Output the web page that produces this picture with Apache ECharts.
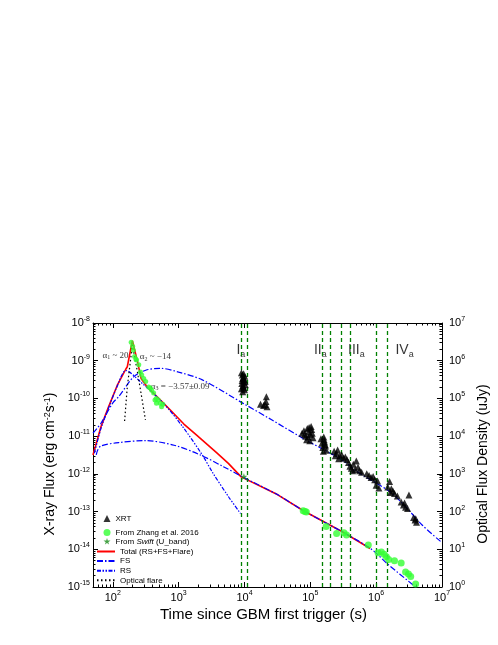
<!DOCTYPE html>
<html>
<head>
<meta charset="utf-8">
<script src="https://cdn.jsdelivr.net/npm/echarts@6/dist/echarts.min.js"></script>
<style>
html, body { margin: 0; padding: 0; background: #fff; }
#container { width: 498px; height: 645px; }
</style>
</head>
<body>
<div id="container"></div>
<script>
// X-ray data, time (s) vs flux (erg cm^-2 s^-1)
var xrtData = [
    [9.0e3, 4.8e-10], [9.3e3, 4.2e-10], [9.6e3, 3.6e-10], [9.9e3, 3.2e-10], [1.02e4, 2.8e-10],
    [9.1e3, 2.5e-10], [9.5e3, 2.2e-10], [9.8e3, 1.9e-10], [1.0e4, 1.7e-10], [9.4e3, 1.5e-10],
    [9.7e3, 2.7e-10], [1.01e4, 3.9e-10], [9.2e3, 3.0e-10], [9.6e3, 2.0e-10], [1.03e4, 2.3e-10],
    [9.0e3, 1.8e-10], [9.7e3, 4.5e-10], [9.4e3, 3.4e-10],
    [1.75e4, 7.0e-11], [1.95e4, 6.5e-11], [2.05e4, 6.9e-11], [2.15e4, 1.1e-10], [2.2e4, 6.0e-11], [2.12e4, 8.3e-11],
    [7.5e4, 1.2e-11], [8.0e4, 1.4e-11], [8.5e4, 1.0e-11], [9.0e4, 1.6e-11], [9.5e4, 1.3e-11],
    [1.0e5, 1.1e-11], [1.05e5, 1.5e-11], [1.1e5, 9.0e-12], [8.8e4, 8.0e-12], [9.8e4, 7.5e-12],
    [1.03e5, 1.8e-11], [8.2e4, 1.1e-11], [9.3e4, 9.5e-12], [1.07e5, 1.2e-11], [9.6e4, 1.7e-11],
    [1.45e5, 8.5e-12], [1.5e5, 6.5e-12], [1.55e5, 5.0e-12], [1.6e5, 9.5e-12], [1.65e5, 7.0e-12],
    [1.7e5, 5.5e-12], [1.75e5, 4.2e-12], [1.58e5, 4.0e-12], [1.62e5, 8.0e-12], [1.68e5, 6.0e-12],
    [2.3e5, 4.0e-12], [2.5e5, 3.5e-12], [2.6e5, 4.3e-12], [2.8e5, 3.0e-12], [3.0e5, 3.2e-12],
    [3.2e5, 2.6e-12], [3.4e5, 2.8e-12], [3.6e5, 2.4e-12], [2.4e5, 3.0e-12], [2.7e5, 2.5e-12],
    [3.8e5, 2.0e-12], [4.0e5, 1.6e-12], [4.2e5, 1.4e-12], [4.5e5, 1.8e-12], [4.8e5, 1.3e-12],
    [5.0e5, 2.2e-12], [5.3e5, 1.5e-12], [5.6e5, 1.2e-12], [4.4e5, 1.2e-12], [6.0e5, 1.1e-12],
    [7.2e5, 1.0e-12], [7.8e5, 9.0e-13], [8.4e5, 8.0e-13], [9.0e5, 8.5e-13], [9.5e5, 7.0e-13],
    [1.05e6, 6.5e-13], [1.1e6, 4.2e-13], [1.0e6, 5.0e-13],
    [1.5e6, 4.5e-13], [1.6e6, 6.3e-13], [1.7e6, 4.0e-13], [1.8e6, 3.5e-13], [1.9e6, 3.0e-13],
    [2.1e6, 2.6e-13], [1.65e6, 3.2e-13],
    [2.4e6, 1.8e-13], [2.6e6, 1.5e-13], [2.8e6, 1.3e-13], [3.0e6, 1.2e-13], [3.15e6, 2.75e-13], [2.7e6, 1.7e-13],
    [3.7e6, 7.0e-14], [3.9e6, 6.0e-14], [4.1e6, 5.2e-14], [4.0e6, 6.5e-14]
];
var fsXrayModel = [
    [50, 1.2e-11], [66, 2.2e-11], [100, 7.6e-11], [123, 1.12e-10], [209, 3.8e-10], [316, 5.6e-10],
    [525, 6.3e-10], [1000, 5.0e-10], [2290, 3.1e-10], [9550, 7.4e-11], [25100, 2.8e-11],
    [77600, 8.7e-12], [316000, 2.24e-12], [5.1e5, 1.15e-12], [1.6e6, 3.4e-13], [2.8e6, 1.35e-13],
    [5.0e6, 4.4e-14], [1e7, 1.5e-14]
];

// optical data, time (s) vs flux density (uJy)
var zhangEarly = [
    [190, 3.1e6], [200, 2.4e6], [205, 1.9e6], [214, 1.3e6], [224, 1.1e6], [229, 1.05e6],
    [248, 7.8e5], [263, 5.0e5], [275, 4.2e5], [295, 3.4e5], [316, 2.8e5], [350, 2.0e5],
    [372, 1.9e5], [389, 1.65e5], [417, 1.4e5], [437, 9.1e4], [457, 1.0e5], [460, 7.4e4],
    [490, 9.1e4], [525, 7.4e4], [550, 6.0e4], [575, 7.0e4]
];
var zhangLate = [
    [7.8e4, 105], [8.3e4, 100], [8.7e4, 98], [1.74e5, 40], [2.51e5, 26.3], [3.24e5, 27.5],
    [3.55e5, 24], [7.6e5, 12.9], [1.07e6, 8.1], [1.2e6, 8.5], [1.32e6, 7.4], [1.43e6, 6.3],
    [1.55e6, 5.4], [1.9e6, 5.0], [2.4e6, 4.3], [2.8e6, 2.5], [3.1e6, 2.2], [3.35e6, 1.9], [3.98e6, 1.2]
];
var swiftData = [[9800, 850]];
var totalModel = [
    [50, 3160], [66, 17800], [85, 56200], [117, 224000], [158, 603000], [166, 692000],
    [198, 3.39e6], [234, 1.05e6], [269, 339000], [331, 204000], [468, 112000], [741, 50100],
    [1200, 20900], [1820, 11200], [3800, 3600], [5690, 1900], [8910, 832], [31600, 282],
    [77600, 107], [316000, 28.2], [810000, 10.5]
];
var fsOpticalModel = [
    [56, 3200], [59, 4270], [66, 5500], [123, 6760], [309, 7590], [851, 5750], [2140, 3160],
    [4790, 1550], [9330, 832], [31600, 282], [77600, 107], [316000, 28.2], [851000, 10],
    [1.51e6, 4], [3.98e6, 1.0]
];
var rsModel = [
    [52.5, 3550], [66, 15800], [85, 52500], [117, 214000], [158, 550000], [263, 275000],
    [589, 74100], [1150, 17800], [2290, 3160], [3240, 1120], [5690, 251], [8710, 89]
];
var flareModel = [
    [151, 25100], [166, 204000], [186, 1.05e6], [198, 2.63e6], [234, 562000], [279, 91200], [313, 26900]
];

var epochTimes = [9000, 11000, 1.5e5, 2e5, 3e5, 4e5, 1e6, 1.5e6];
var epochNames = ['I', 'II', 'III', 'IV'];
var epochNameTimes = [8800, 1.42e5, 5.0e5, 2.7e6];
var slopeTexts = [
    '{g|α}{sub|1}{g| ~ 20}',
    '{g|α}{sub|2}{g| ~ −14}',
    '{g|α}{sub|3}{g| = −3.57±0.09}'
];
var slopeSpots = [[110, 1.4e-9], [442, 1.26e-9], [1055, 2.1e-10]];

var sans = 'Liberation Sans, Arial, sans-serif';
var serif = 'Liberation Serif, Times New Roman, serif';
var starPath = 'path://M50,0L61,35L98,35L68,57L79,91L50,70L21,91L32,57L2,35L39,35Z';

function powLabel(v) {
    var e = Math.log10(v);
    var r = Math.round(e);
    if (Math.abs(e - r) > 1e-6) return '';
    return '{b|10}{s|' + r + '}';
}
var powRich = {
    b: { fontSize: 11, lineHeight: 15, fontFamily: sans, color: '#000' },
    s: { fontSize: 7, lineHeight: 8, verticalAlign: 'top', fontFamily: sans, color: '#000' }
};

function minorLogs(lo, hi) {
    var out = [];
    for (var d = Math.floor(lo); d < hi; d++) {
        for (var k = 2; k <= 9; k++) {
            var v = d + Math.log10(k);
            if (v > lo && v < hi) out.push(v);
        }
    }
    return out;
}

function graficoCurva() {
    var dom = document.getElementById('container');
    var myChart = echarts.init(dom);
    var option;

    var majorTick = { show: true, inside: true, length: 5, lineStyle: { color: '#000', width: 1 } };
    var blackLine = { show: true, onZero: false, lineStyle: { color: '#000', width: 1 } };
    function minorAxis(pos, lo, hi) {
        return {
            type: 'value', position: pos, min: lo, max: hi,
            axisLine: { show: false, onZero: false },
            axisLabel: { show: false },
            splitLine: { show: false },
            axisTick: { show: true, inside: true, length: 2.5, customValues: minorLogs(lo, hi),
                lineStyle: { color: '#000', width: 1 } }
        };
    }
    var legendText = {
        fontFamily: sans, fontSize: 8, color: '#000',
        rich: { i: { fontFamily: sans, fontSize: 8, fontStyle: 'italic', color: '#000' } }
    };
    var noDot = { opacity: 0 };

    var epochLabelData = epochNames.map(function (n, i) {
        return {
            value: [epochNameTimes[i], 1.9e-9],
            label: { formatter: '{r|' + n + '}{sub|a}' }
        };
    });
    var slopeLabelData = slopeTexts.map(function (t, i) {
        return { value: slopeSpots[i], label: { formatter: t } };
    });

    option = {
        animation: false,
        backgroundColor: '#fff',
        grid: { left: 93, right: 46, top: 323, bottom: 58 },
        legend: [
            {
                left: 103.5, top: 514.5, padding: 0, itemWidth: 7, itemHeight: 7,
                data: ['XRT'],
                textStyle: legendText
            },
            {
                orient: 'vertical', left: 103.5, top: 528.5, padding: 0, itemWidth: 7, itemHeight: 7, itemGap: 0.8,
                data: ['From Zhang et al. 2016', 'From Swift (U_band)'],
                formatter: function (name) {
                    return name === 'From Swift (U_band)' ? 'From {i|Swift} (U_band)' : name;
                },
                textStyle: legendText
            },
            {
                orient: 'vertical', left: 96, top: 547.5, padding: 0, itemWidth: 18, itemHeight: 7, itemGap: 1.6,
                data: [
                    { name: 'Total (RS+FS+Flare)', itemStyle: noDot },
                    { name: 'FS', itemStyle: noDot },
                    { name: 'RS', itemStyle: noDot },
                    { name: 'Optical flare', itemStyle: noDot }
                ],
                textStyle: legendText
            }
        ],
        xAxis: [
            {
                type: 'log', position: 'bottom', min: 50, max: 1e7,
                name: 'Time since GBM first trigger (s)', nameLocation: 'middle', nameGap: 20,
                nameTextStyle: { fontFamily: sans, fontSize: 15, color: '#000', padding: [0, 0, 0, -8] },
                axisLine: blackLine, axisTick: majorTick, splitLine: { show: false },
                axisLabel: { formatter: powLabel, rich: powRich, margin: 3, color: '#000' }
            },
            {
                type: 'log', position: 'top', min: 50, max: 1e7,
                axisLine: blackLine, axisTick: majorTick, splitLine: { show: false },
                axisLabel: { show: false }
            },
            minorAxis('bottom', Math.log10(50), 7),
            minorAxis('top', Math.log10(50), 7)
        ],
        yAxis: [
            {
                type: 'log', position: 'left', min: 1e-15, max: 1e-8,
                name: 'X-ray Flux (erg cm{s|-2}s{s|-1})', nameLocation: 'middle', nameGap: 29,
                nameRotate: 90,
                nameTextStyle: {
                    fontFamily: sans, fontSize: 14, color: '#000', padding: [0, 18, 0, 0],
                    rich: { s: { fontFamily: sans, fontSize: 9, lineHeight: 9, verticalAlign: 'top', color: '#000' } }
                },
                axisLine: blackLine, axisTick: majorTick, splitLine: { show: false },
                axisLabel: { formatter: powLabel, rich: powRich, margin: 3, color: '#000' }
            },
            {
                type: 'log', position: 'right', min: 1, max: 1e7,
                name: 'Optical Flux Density (uJy)', nameLocation: 'middle', nameGap: 30,
                nameRotate: 90,
                nameTextStyle: { fontFamily: sans, fontSize: 14, color: '#000', padding: [0, 18, 0, 0] },
                axisLine: blackLine, axisTick: majorTick, splitLine: { show: false },
                axisLabel: { formatter: powLabel, rich: powRich, margin: 7, color: '#000' }
            },
            minorAxis('left', -15, -8),
            minorAxis('right', 0, 7)
        ],
        series: [
            {
                name: 'Total (RS+FS+Flare)', type: 'line', xAxisIndex: 0, yAxisIndex: 1,
                data: totalModel, symbol: 'none', z: 3,
                lineStyle: { color: '#ff0000', width: 1.6 }, itemStyle: { color: '#ff0000' }
            },
            {
                name: 'FS', type: 'line', xAxisIndex: 0, yAxisIndex: 1,
                data: fsOpticalModel, symbol: 'none', smooth: 0.3, z: 4,
                lineStyle: { color: '#0000ff', width: 1.2, type: [6, 2, 1.5, 2] }, itemStyle: { color: '#0000ff' }
            },
            {
                name: 'FS', type: 'line', xAxisIndex: 0, yAxisIndex: 0,
                data: fsXrayModel, symbol: 'none', smooth: 0.3, z: 4,
                lineStyle: { color: '#0000ff', width: 1.2, type: [6, 2, 1.5, 2] }, itemStyle: { color: '#0000ff' }
            },
            {
                name: 'RS', type: 'line', xAxisIndex: 0, yAxisIndex: 1,
                data: rsModel, symbol: 'none', smooth: 0.3, z: 4,
                lineStyle: { color: '#0000ff', width: 1.2, type: [4, 1.5, 1.5, 1.5, 1.5, 1.5] }, itemStyle: { color: '#0000ff' }
            },
            {
                name: 'Optical flare', type: 'line', xAxisIndex: 0, yAxisIndex: 1,
                data: flareModel, symbol: 'none', z: 4,
                lineStyle: { color: '#000', width: 1.2, type: [1.5, 2.5] }, itemStyle: { color: '#000' }
            },
            {
                name: 'XRT', type: 'scatter', xAxisIndex: 0, yAxisIndex: 0,
                data: xrtData, symbol: 'triangle', symbolSize: 7, z: 5,
                itemStyle: { color: '#000' },
                markLine: {
                    silent: true, symbol: 'none', label: { show: false },
                    lineStyle: { color: '#008000', width: 1.3, type: [4, 3] },
                    data: epochTimes.map(function (t) { return { xAxis: t }; })
                }
            },
            {
                name: 'From Zhang et al. 2016', type: 'scatter', xAxisIndex: 0, yAxisIndex: 1,
                data: zhangEarly, symbol: 'circle', symbolSize: 5, z: 6,
                itemStyle: { color: '#33ff33' }
            },
            {
                name: 'From Zhang et al. 2016', type: 'scatter', xAxisIndex: 0, yAxisIndex: 1,
                data: zhangLate, symbol: 'circle', symbolSize: 7, z: 6,
                itemStyle: { color: '#33ff33' }
            },
            {
                name: 'From Swift (U_band)', type: 'scatter', xAxisIndex: 0, yAxisIndex: 1,
                data: swiftData, symbol: starPath, symbolSize: 7, z: 6,
                itemStyle: { color: '#1a8c1a' }
            },
            {
                name: 'epochs', type: 'scatter', xAxisIndex: 0, yAxisIndex: 0,
                data: epochLabelData, symbolSize: 1, itemStyle: { color: 'transparent' }, silent: true,
                label: {
                    show: true, position: 'inside',
                    rich: {
                        r: { fontFamily: sans, fontSize: 14, lineHeight: 18, color: '#000' },
                        sub: { fontFamily: sans, fontSize: 9, lineHeight: 9, verticalAlign: 'bottom', color: '#000' }
                    }
                }
            },
            {
                name: 'slopes', type: 'scatter', xAxisIndex: 0, yAxisIndex: 0,
                data: slopeLabelData, symbolSize: 1, itemStyle: { color: 'transparent' }, silent: true,
                label: {
                    show: true, position: 'inside',
                    rich: {
                        g: { fontFamily: serif, fontSize: 9, lineHeight: 11, color: '#000' },
                        sub: { fontFamily: serif, fontSize: 6, lineHeight: 6, verticalAlign: 'bottom', color: '#000' }
                    }
                }
            }
        ]
    };

    if (option && typeof option === 'object') {
        myChart.setOption(option);
    }
}
graficoCurva();
</script>
</body>
</html>
